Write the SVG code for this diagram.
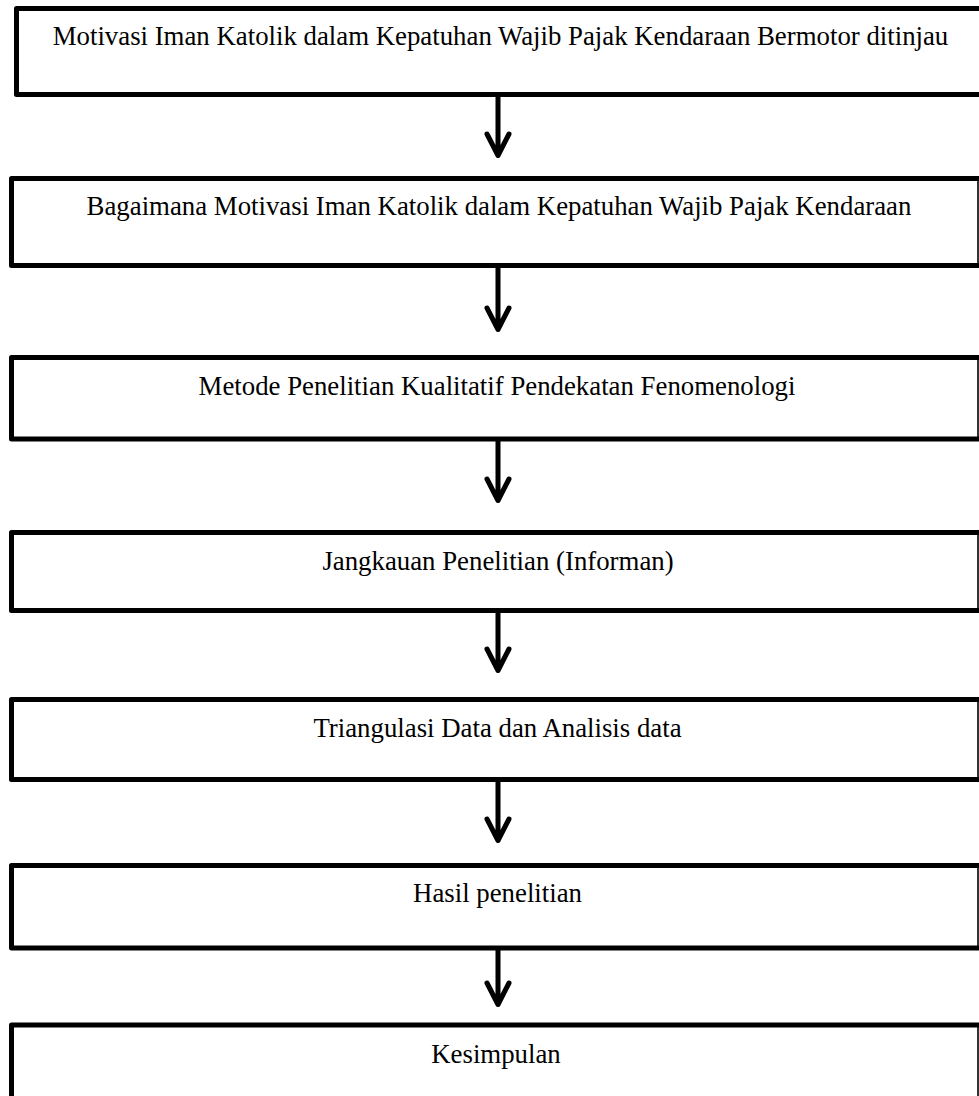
<svg xmlns="http://www.w3.org/2000/svg" width="979" height="1096" viewBox="0 0 979 1096">
  <style>
    .frame { fill: none; stroke: #000; stroke-width: 5; stroke-linejoin: round; stroke-linecap: butt; }
    .edge { stroke: #000; stroke-width: 1.6; }
    .label { font-family: "Liberation Serif", "Times New Roman", serif; font-size: 26.8px; fill: #000; text-anchor: middle; }
    .flow { fill: none; stroke: #000; stroke-width: 5; stroke-linecap: round; stroke-linejoin: round; }
  </style>
  <rect width="979" height="1096" fill="#fff"/>

  <!-- Boxes: heavy top/left/bottom border, hairline right edge -->
  <g id="box-motivasi">
    <path class="frame" d="M 985 8.5 H 16.5 V 94.5 H 985"/>
    <text class="label" x="500.5" y="45">Motivasi Iman Katolik dalam Kepatuhan Wajib Pajak Kendaraan Bermotor ditinjau</text>
  </g>
  <g id="box-rumusan">
    <path class="frame" d="M 985 178.5 H 11.5 V 265.5 H 985"/>
    <line class="edge" x1="978" y1="178.5" x2="978" y2="265.5"/>
    <text class="label" x="499" y="215">Bagaimana Motivasi Iman Katolik dalam Kepatuhan Wajib Pajak Kendaraan</text>
  </g>
  <g id="box-metode">
    <path class="frame" d="M 985 357.5 H 11.5 V 439 H 985"/>
    <line class="edge" x1="978" y1="357.5" x2="978" y2="439"/>
    <text class="label" x="497" y="395">Metode Penelitian Kualitatif Pendekatan Fenomenologi</text>
  </g>
  <g id="box-informan">
    <path class="frame" d="M 985 532.5 H 11.5 V 610.5 H 985"/>
    <line class="edge" x1="978" y1="532.5" x2="978" y2="610.5"/>
    <text class="label" x="498" y="570">Jangkauan Penelitian (Informan)</text>
  </g>
  <g id="box-triangulasi">
    <path class="frame" d="M 985 699.5 H 11.5 V 779.5 H 985"/>
    <line class="edge" x1="978" y1="699.5" x2="978" y2="779.5"/>
    <text class="label" x="497.5" y="737">Triangulasi Data dan Analisis data</text>
  </g>
  <g id="box-hasil">
    <path class="frame" d="M 985 865.5 H 11.5 V 948 H 985"/>
    <line class="edge" x1="978" y1="865.5" x2="978" y2="948"/>
    <text class="label" x="497.5" y="902">Hasil penelitian</text>
  </g>
  <g id="box-kesimpulan">
    <path class="frame" d="M 985 1025 H 11.5 V 1100"/>
    <line class="edge" x1="978" y1="1025" x2="978" y2="1100"/>
    <text class="label" x="496" y="1063">Kesimpulan</text>
  </g>

  <!-- Connectors: straight shaft with an open chevron head -->
  <g id="connectors">
    <path class="flow" d="M 498 97 V 155 M 487 134 L 498 155.5 L 509 134"/>
    <path class="flow" d="M 498 268 V 329 M 487 308 L 498 329.5 L 509 308"/>
    <path class="flow" d="M 498 441 V 500 M 487 479 L 498 500.5 L 509 479"/>
    <path class="flow" d="M 498 613 V 670 M 487 649 L 498 670.5 L 509 649"/>
    <path class="flow" d="M 498 782 V 840 M 487 819 L 498 840.5 L 509 819"/>
    <path class="flow" d="M 498 950 V 1004 M 487 983 L 498 1004.5 L 509 983"/>
  </g>
</svg>
